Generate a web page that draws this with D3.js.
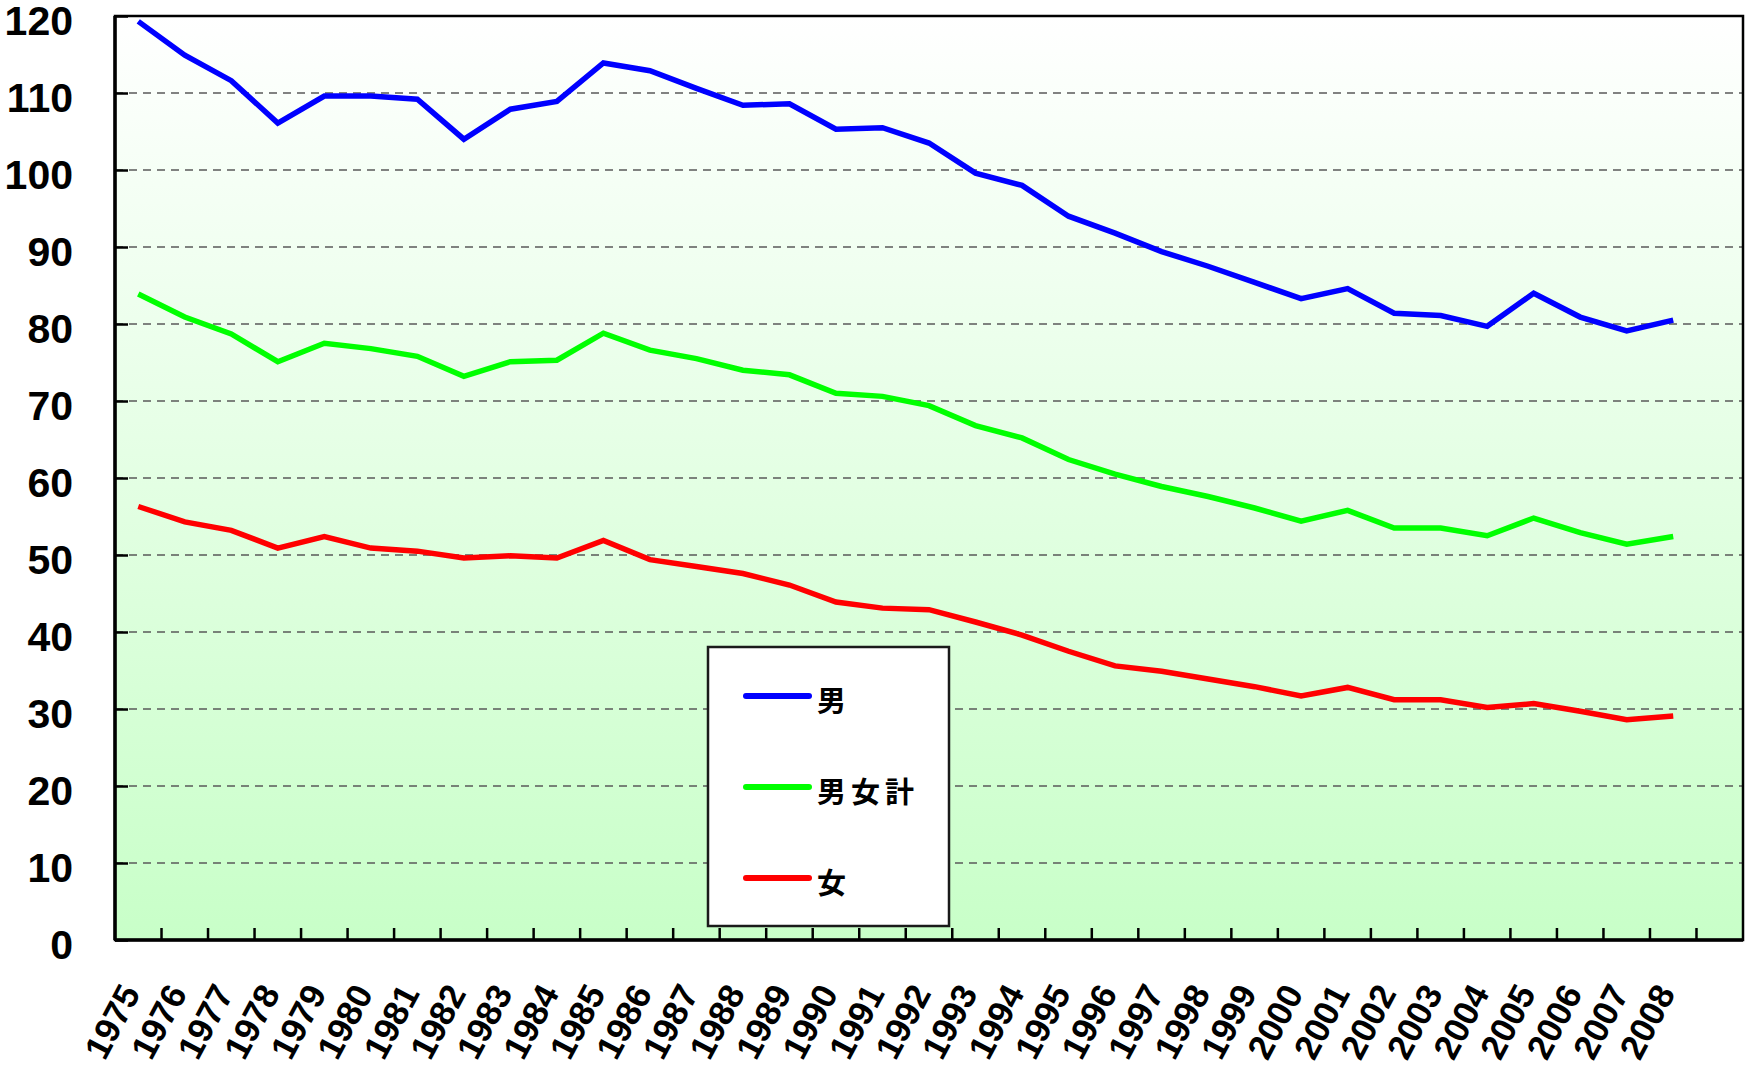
<!DOCTYPE html>
<html>
<head>
<meta charset="utf-8">
<script src="https://cdn.jsdelivr.net/npm/d3@7"></script>
<style>
  body { margin: 0; background: #fff; }
  svg { display: block; }
</style>
</head>
<body>
<div id="chart"></div>
<script>
// categories (last slot is an empty band, as in the original)
var years = ["1975", "1976", "1977", "1978", "1979", "1980", "1981", "1982", "1983", "1984",
  "1985", "1986", "1987", "1988", "1989", "1990", "1991", "1992", "1993", "1994",
  "1995", "1996", "1997", "1998", "1999", "2000", "2001", "2002", "2003", "2004",
  "2005", "2006", "2007", "2008"];

var male = [119.3, 114.9, 111.6, 106.1, 109.6, 109.6, 109.2, 104.0, 107.9, 108.9,
  113.9, 112.9, 110.6, 108.4, 108.6, 105.3, 105.5, 103.5, 99.6, 98.0,
  94.0, 91.8, 89.4, 87.5, 85.4, 83.3, 84.6, 81.4, 81.1, 79.7,
  84.0, 80.9, 79.1, 80.5];

var total = [83.9, 80.9, 78.7, 75.1, 77.5, 76.8, 75.8, 73.2, 75.1, 75.3,
  78.8, 76.6, 75.5, 74.0, 73.4, 71.0, 70.6, 69.4, 66.8, 65.2,
  62.4, 60.5, 58.9, 57.6, 56.1, 54.4, 55.8, 53.5, 53.5, 52.5,
  54.8, 52.9, 51.4, 52.4];

var female = [56.3, 54.3, 53.2, 50.9, 52.4, 50.9, 50.5, 49.6, 49.9, 49.6,
  51.9, 49.4, 48.5, 47.6, 46.1, 43.9, 43.1, 42.9, 41.3, 39.6,
  37.5, 35.6, 34.9, 33.9, 32.9, 31.7, 32.8, 31.2, 31.2, 30.2,
  30.7, 29.7, 28.6, 29.1];

var yTicks = [0, 10, 20, 30, 40, 50, 60, 70, 80, 90, 100, 110, 120];

var seriesNames = ["男", "男女計", "女"];
var seriesColors = ["#0000ff", "#00ff00", "#ff0000"];
var seriesValues = [male, total, female];

var margin = { top: 16, right: 3, bottom: 127, left: 115 },
  width = 1746 - margin.left - margin.right,
  height = 1067 - margin.top - margin.bottom;

var svg = d3.select("#chart")
  .append("svg")
  .attr("width", 1746)
  .attr("height", 1067);

var defs = svg.append("defs");
var grad = defs.append("linearGradient")
  .attr("id", "bg")
  .attr("x1", 0).attr("y1", 0).attr("x2", 0).attr("y2", 1);
grad.append("stop").attr("offset", "0%").attr("stop-color", "#ffffff");
grad.append("stop").attr("offset", "100%").attr("stop-color", "#c8ffc8");

var g = svg.append("g")
  .attr("transform", "translate(" + margin.left + "," + margin.top + ")");

var x = d3.scaleBand()
  .domain(years.concat([""]))
  .range([0, width]);

var y = d3.scaleLinear()
  .domain([0, 120])
  .range([height, 0]);

// plot background
g.append("rect")
  .attr("width", width)
  .attr("height", height)
  .attr("fill", "url(#bg)");

// dashed gridlines
g.append("g")
  .selectAll("line")
  .data(yTicks.filter(function (d) { return d > 0 && d < 120; }))
  .enter()
  .append("line")
  .attr("x1", 0)
  .attr("x2", width)
  .attr("y1", function (d) { return y(d); })
  .attr("y2", function (d) { return y(d); })
  .attr("stroke", "#5a5a5a")
  .attr("stroke-width", 1.7)
  .attr("stroke-dasharray", "8,6");

// y axis, ticks inside
var yAxis = g.append("g")
  .call(d3.axisLeft(y).tickValues(yTicks).tickSize(-13).tickPadding(42));
yAxis.select(".domain").remove();
yAxis.selectAll(".tick line").attr("stroke", "#000").attr("stroke-width", 2.5);
yAxis.selectAll("text")
  .attr("dy", "0.44em")
  .style("font-family", "'Liberation Sans', Arial, sans-serif")
  .style("font-weight", "bold")
  .style("font-size", "41px")
  .attr("fill", "#000");

// x ticks at band boundaries, pointing up into the plot
g.append("g")
  .selectAll("line")
  .data(x.domain().slice(1))
  .enter()
  .append("line")
  .attr("x1", function (d) { return x(d); })
  .attr("x2", function (d) { return x(d); })
  .attr("y1", height)
  .attr("y2", height - 12)
  .attr("stroke", "#000")
  .attr("stroke-width", 2.5);

// x labels, rotated
g.append("g")
  .selectAll("text")
  .data(years)
  .enter()
  .append("text")
  .attr("transform", function (d) {
    return "translate(" + (x(d) + x.bandwidth() / 2 + 3) + "," + (height + 53) + ") rotate(-62)";
  })
  .attr("text-anchor", "end")
  .style("font-family", "'Liberation Sans', Arial, sans-serif")
  .style("font-weight", "bold")
  .style("font-size", "35px")
  .text(function (d) { return d; });

// lines
var line = d3.line()
  .x(function (d, i) { return x(years[i]) + x.bandwidth() / 2; })
  .y(function (d) { return y(d); });

g.selectAll(".series")
  .data(seriesValues)
  .enter()
  .append("path")
  .attr("class", "series")
  .attr("d", line)
  .attr("fill", "none")
  .attr("stroke", function (d, i) { return seriesColors[i]; })
  .attr("stroke-width", 5.5)
  .attr("stroke-linejoin", "miter");

// frame
g.append("rect")
  .attr("width", width)
  .attr("height", height)
  .attr("fill", "none")
  .attr("stroke", "#000")
  .attr("stroke-width", 2.5);
g.append("line")
  .attr("x1", 0).attr("x2", 0).attr("y1", 0).attr("y2", height)
  .attr("stroke", "#000").attr("stroke-width", 3.5);
g.append("line")
  .attr("x1", 0).attr("x2", width).attr("y1", height).attr("y2", height)
  .attr("stroke", "#000").attr("stroke-width", 3.5);

// legend
var legend = svg.append("g").attr("transform", "translate(708,647)");
legend.append("rect")
  .attr("width", 241)
  .attr("height", 279)
  .attr("fill", "#fff")
  .attr("stroke", "#1a1a1a")
  .attr("stroke-width", 2.5);

var item = legend.selectAll(".item")
  .data(seriesNames)
  .enter()
  .append("g")
  .attr("class", "item")
  .attr("transform", function (d, i) { return "translate(0," + (49 + i * 91) + ")"; });

item.append("line")
  .attr("x1", 38).attr("x2", 101)
  .attr("stroke", function (d, i) { return seriesColors[i]; })
  .attr("stroke-width", 6)
  .attr("stroke-linecap", "round");

item.append("text")
  .attr("x", 109)
  .attr("y", 3)
  .attr("dominant-baseline", "central")
  .style("font-family", "'Noto Sans CJK JP', sans-serif")
  .style("font-weight", "bold")
  .style("font-size", "29px")
  .style("letter-spacing", "5px")
  .text(function (d) { return d; });
</script>
</body>
</html>
